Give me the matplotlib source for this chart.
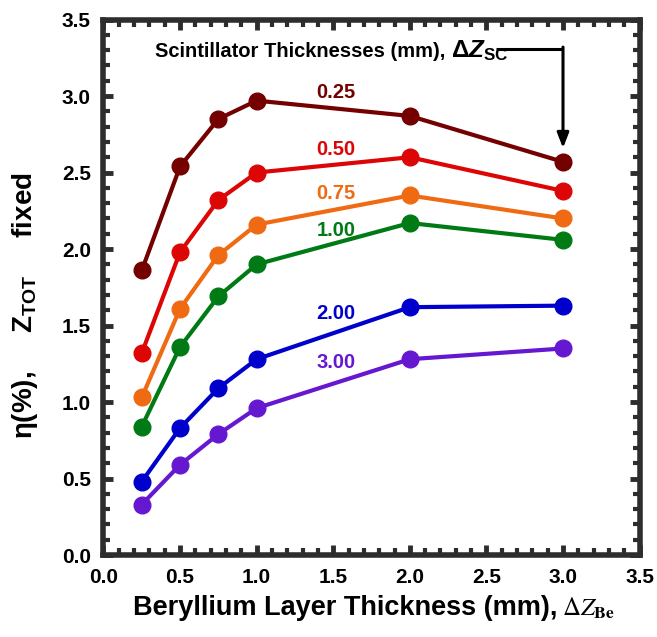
import matplotlib
matplotlib.use("Agg")
import matplotlib.pyplot as plt
from matplotlib.ticker import MultipleLocator

plt.rcParams["font.family"] = ["Liberation Sans", "DejaVu Sans"]
plt.rcParams["mathtext.fontset"] = "custom"
plt.rcParams["mathtext.rm"] = "Liberation Sans:bold"
plt.rcParams["mathtext.it"] = "Liberation Sans:italic:bold"
plt.rcParams["mathtext.bf"] = "Liberation Sans:bold"

# Beryllium layer thickness (mm)
be_thickness = [0.25, 0.5, 0.75, 1.0, 2.0, 3.0]

# scintillator thickness labels and efficiency curves, eta (%)
sc_labels = ["0.25", "0.50", "0.75", "1.00", "2.00", "3.00"]
eta_025 = [1.86, 2.54, 2.85, 2.97, 2.87, 2.57]
eta_050 = [1.32, 1.98, 2.32, 2.50, 2.60, 2.38]
eta_075 = [1.03, 1.61, 1.96, 2.16, 2.35, 2.20]
eta_100 = [0.84, 1.36, 1.69, 1.90, 2.17, 2.06]
eta_200 = [0.48, 0.83, 1.09, 1.28, 1.62, 1.63]
eta_300 = [0.33, 0.59, 0.79, 0.96, 1.28, 1.35]

series = [eta_025, eta_050, eta_075, eta_100, eta_200, eta_300]
colors = ["#740000", "#dd0606", "#ef6a12", "#007a14", "#0000cc", "#6618d0"]
label_y = [3.02, 2.65, 2.36, 2.12, 1.58, 1.26]

fig = plt.figure(figsize=(6.57, 6.37), dpi=100)
ax = fig.add_axes([0.1575, 0.1287, 0.816, 0.8406])

for eta, c, lab, ly in zip(series, colors, sc_labels, label_y):
    ax.plot(be_thickness, eta, color=c, linewidth=3, marker="o",
            markersize=12, zorder=3)
    ax.text(1.52, ly, lab, color=c, fontsize=14.5, fontweight="bold",
            ha="center", va="center")

ax.set_xlim(0, 3.5)
ax.set_ylim(0, 3.5)
ax.xaxis.set_major_locator(MultipleLocator(0.5))
ax.yaxis.set_major_locator(MultipleLocator(0.5))
ax.xaxis.set_minor_locator(MultipleLocator(0.1))
ax.yaxis.set_minor_locator(MultipleLocator(0.1))

frame = "#2d2d2d"
for sp in ax.spines.values():
    sp.set_linewidth(4)
    sp.set_color(frame)
ax.tick_params(which="both", direction="in", top=True, right=True,
               color=frame, labelsize=15)
ax.tick_params(which="major", length=7, width=3.5, pad=9)
ax.tick_params(which="minor", length=5, width=3)
for lbl in ax.get_xticklabels() + ax.get_yticklabels():
    lbl.set_fontweight("bold")

# header with the arrow pointing at the thinnest scintillator curve
head = ax.text(0.336, 3.253, "Scintillator Thicknesses (mm), ",
               fontsize=14.5, fontweight="bold", ha="left", va="baseline")
ax.annotate(r"$\Delta Z_{\mathrm{SC}}$", xy=(1, 3.253),
            xycoords=(head, "data"), fontsize=17.5, ha="left", va="baseline")
ax.plot([2.56, 3.0], [3.305, 3.305], color="black", linewidth=2.2,
        solid_capstyle="butt", zorder=4)
ax.annotate("", xy=(3.0, 2.66), xytext=(3.0, 3.32),
            arrowprops=dict(arrowstyle="-|>,head_length=0.9,head_width=0.35",
                            color="black", linewidth=2.2, shrinkA=0, shrinkB=0))

# axis titles; the math part of the x title is set in a serif face
ax.set_xlabel("Beryllium Layer Thickness (mm), ", fontsize=19.5,
              fontweight="bold")
ax.xaxis.set_label_coords(0.458, -0.075)
ax.annotate(r"$\Delta Z_{\mathbf{Be}}$", xy=(1, 0), xycoords=ax.xaxis.label,
            xytext=(-2, 4), textcoords="offset points", fontsize=18,
            math_fontfamily="stix", ha="left", va="baseline",
            annotation_clip=False)

ax.set_ylabel(r"η(%),     $\mathbf{Z}_{\mathbf{TOT}}$     fixed",
              fontsize=20, fontweight="bold")
ax.yaxis.set_label_coords(-0.118, 0.465)

fig.savefig("out.png", dpi=100)
